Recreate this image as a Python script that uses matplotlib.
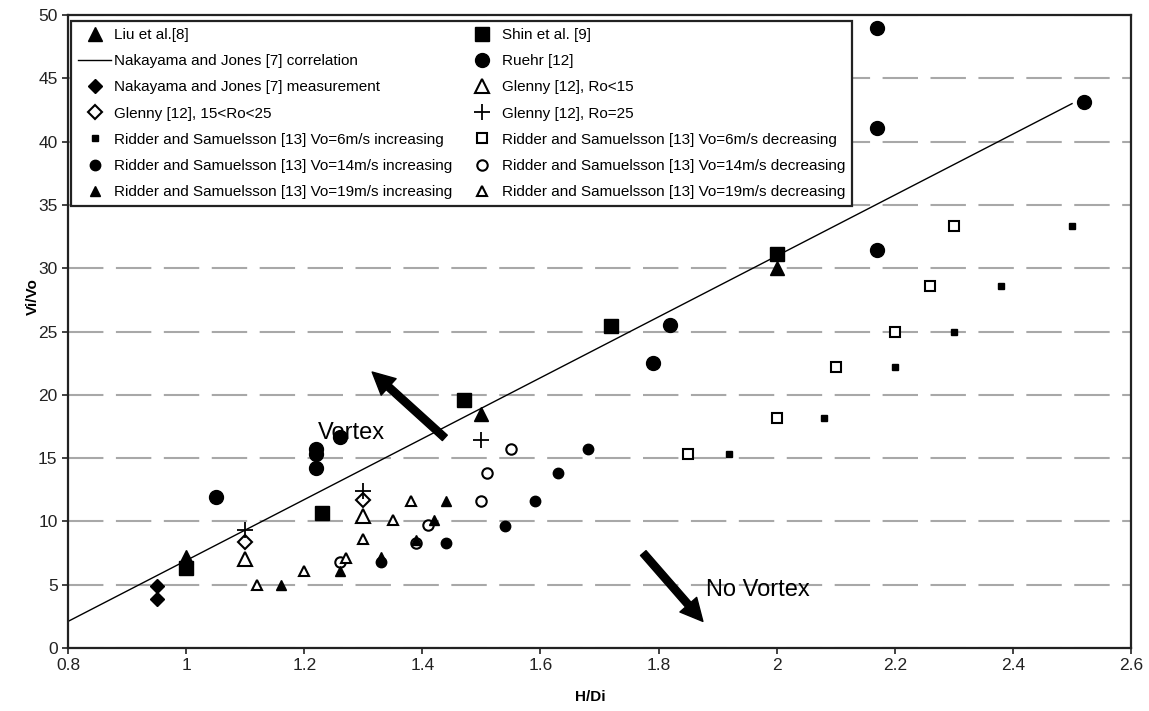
import matplotlib

matplotlib.use("Agg")
import matplotlib.pyplot as plt
from matplotlib.patches import FancyArrowPatch
from matplotlib.ticker import FuncFormatter, MultipleLocator


# values
liu_x = [1.0, 1.5, 2.0]
liu_y = [7.2, 18.5, 30.0]

shin_x = [1.0, 1.23, 1.47, 1.72, 2.0]
shin_y = [6.3, 10.7, 19.6, 25.4, 31.1]

corr_x = [0.8, 2.5]
corr_y = [2.1, 43.0]

ruehr_x = [1.05, 1.22, 1.22, 1.22, 1.26, 1.79, 1.82, 2.17, 2.17, 2.17, 2.52]
ruehr_y = [11.9, 15.7, 15.3, 14.2, 16.7, 22.5, 25.5, 31.4, 41.1, 49.0, 43.1]

nak_meas_x = [0.95, 0.95]
nak_meas_y = [4.9, 3.9]

glenny_lo_x = [1.1, 1.3]
glenny_lo_y = [7.0, 10.4]

glenny_mid_x = [1.1, 1.3]
glenny_mid_y = [8.4, 11.7]

glenny_25_x = [1.1, 1.3, 1.5]
glenny_25_y = [9.3, 12.4, 16.4]

r6_inc_x = [1.92, 2.08, 2.2, 2.3, 2.38, 2.5]
r6_inc_y = [15.3, 18.2, 22.2, 25.0, 28.6, 33.3]
r6_dec_x = [1.85, 2.0, 2.1, 2.2, 2.26, 2.3]
r6_dec_y = [15.3, 18.2, 22.2, 25.0, 28.6, 33.3]

r14_inc_x = [1.33, 1.44, 1.54, 1.59, 1.63, 1.68]
r14_inc_y = [6.8, 8.3, 9.6, 11.6, 13.8, 15.7]
r14_dec_x = [1.26, 1.39, 1.41, 1.50, 1.51, 1.55]
r14_dec_y = [6.8, 8.3, 9.7, 11.6, 13.8, 15.7]

r19_inc_x = [1.16, 1.26, 1.33, 1.39, 1.42, 1.44]
r19_inc_y = [5.0, 6.1, 7.2, 8.5, 10.1, 11.6]
r19_dec_x = [1.12, 1.20, 1.27, 1.30, 1.35, 1.38]
r19_dec_y = [5.0, 6.1, 7.1, 8.6, 10.1, 11.6]


def main():
    plt.rcParams["font.family"] = ["Liberation Sans", "DejaVu Sans"]

    fig = plt.figure(figsize=(11.49, 7.11), dpi=100)
    ax = fig.add_axes([0.0592, 0.0886, 0.9252, 0.8903])

    k = "black"
    w = "white"
    h = {}
    (h["corr"],) = ax.plot(corr_x, corr_y, color=k, lw=1.0, label="Nakayama and Jones [7] correlation")
    (h["liu"],) = ax.plot(liu_x, liu_y, "^", color=k, ms=10, ls="none", label="Liu et al.[8]")
    (h["shin"],) = ax.plot(shin_x, shin_y, "s", color=k, ms=9.5, ls="none", label="Shin et al. [9]")
    (h["ruehr"],) = ax.plot(ruehr_x, ruehr_y, "o", color=k, ms=10, ls="none", label="Ruehr [12]")
    (h["nak"],) = ax.plot(nak_meas_x, nak_meas_y, "D", color=k, ms=7.5, ls="none",
                          label="Nakayama and Jones [7] measurement")
    (h["g_lo"],) = ax.plot(glenny_lo_x, glenny_lo_y, "^", mfc=w, mec=k, mew=1.5, ms=10, ls="none",
                           label="Glenny [12], Ro<15")
    (h["g_mid"],) = ax.plot(glenny_mid_x, glenny_mid_y, "D", mfc=w, mec=k, mew=1.5, ms=7, ls="none",
                            label="Glenny [12], 15<Ro<25")
    (h["g_25"],) = ax.plot(glenny_25_x, glenny_25_y, "+", color=k, mew=1.3, ms=11, ls="none",
                           label="Glenny [12], Ro=25")
    (h["r6i"],) = ax.plot(r6_inc_x, r6_inc_y, "s", color=k, ms=5, ls="none",
                          label="Ridder and Samuelsson [13] Vo=6m/s increasing")
    (h["r6d"],) = ax.plot(r6_dec_x, r6_dec_y, "s", mfc=w, mec=k, mew=1.5, ms=7.5, ls="none",
                          label="Ridder and Samuelsson [13] Vo=6m/s decreasing")
    (h["r14i"],) = ax.plot(r14_inc_x, r14_inc_y, "o", color=k, ms=7.5, ls="none",
                           label="Ridder and Samuelsson [13] Vo=14m/s increasing")
    (h["r14d"],) = ax.plot(r14_dec_x, r14_dec_y, "o", mfc=w, mec=k, mew=1.5, ms=7.5, ls="none",
                           label="Ridder and Samuelsson [13] Vo=14m/s decreasing")
    (h["r19i"],) = ax.plot(r19_inc_x, r19_inc_y, "^", color=k, ms=7, ls="none",
                           label="Ridder and Samuelsson [13] Vo=19m/s increasing")
    (h["r19d"],) = ax.plot(r19_dec_x, r19_dec_y, "^", mfc=w, mec=k, mew=1.5, ms=7.5, ls="none",
                           label="Ridder and Samuelsson [13] Vo=19m/s decreasing")

    # arrows and region labels
    for tail, tip in [((1.438, 16.6), (1.315, 21.8)), ((1.774, 7.5), (1.875, 2.1))]:
        ax.add_patch(FancyArrowPatch(tail, tip, arrowstyle="simple,head_length=1.0,head_width=1.0,tail_width=0.33",
                                     mutation_scale=16, color=k, shrinkA=0, shrinkB=0, zorder=4))
    ax.text(1.223, 17.0, "Vortex", fontsize=17, va="center", ha="left", zorder=1)
    ax.text(1.88, 4.6, "No Vortex", fontsize=17, va="center", ha="left")

    ax.set_xlim(0.8, 2.6)
    ax.set_ylim(0, 50)
    ax.xaxis.set_major_locator(MultipleLocator(0.2))
    ax.yaxis.set_major_locator(MultipleLocator(5))
    ax.xaxis.set_major_formatter(FuncFormatter(lambda v, p: f"{v:g}"))
    ax.tick_params(labelsize=12.5, direction="out", length=4, width=1.2, colors="#222222")
    ax.yaxis.grid(True, color="#a8a8a8", lw=1.5, linestyle=(0, (17, 6)))
    ax.set_axisbelow(True)
    for s in ax.spines.values():
        s.set_linewidth(1.6)
        s.set_color("#222222")

    ax.set_xlabel("H/Di", fontsize=11, fontweight="bold")
    ax.set_ylabel("Vi/Vo", fontsize=11, fontweight="bold")
    ax.xaxis.set_label_coords(0.491, -0.066)
    ax.yaxis.set_label_coords(-0.026, 0.555)

    order = ["liu", "corr", "nak", "g_mid", "r6i", "r14i", "r19i",
             "shin", "ruehr", "g_lo", "g_25", "r6d", "r14d", "r19d"]
    leg = ax.legend([h[n] for n in order], [h[n].get_label() for n in order], ncol=2,
                    loc="upper left", bbox_to_anchor=(0.003, 0.9905), borderaxespad=0, fontsize=11,
                    numpoints=1, handlelength=2.15, handletextpad=0.2, columnspacing=0.9,
                    labelspacing=0.8, borderpad=0.45, fancybox=False, framealpha=1)
    leg.get_frame().set_edgecolor("#222222")
    leg.get_frame().set_linewidth(1.6)

    fig.savefig("out.png", dpi=100)


if __name__ == "__main__":
    main()
